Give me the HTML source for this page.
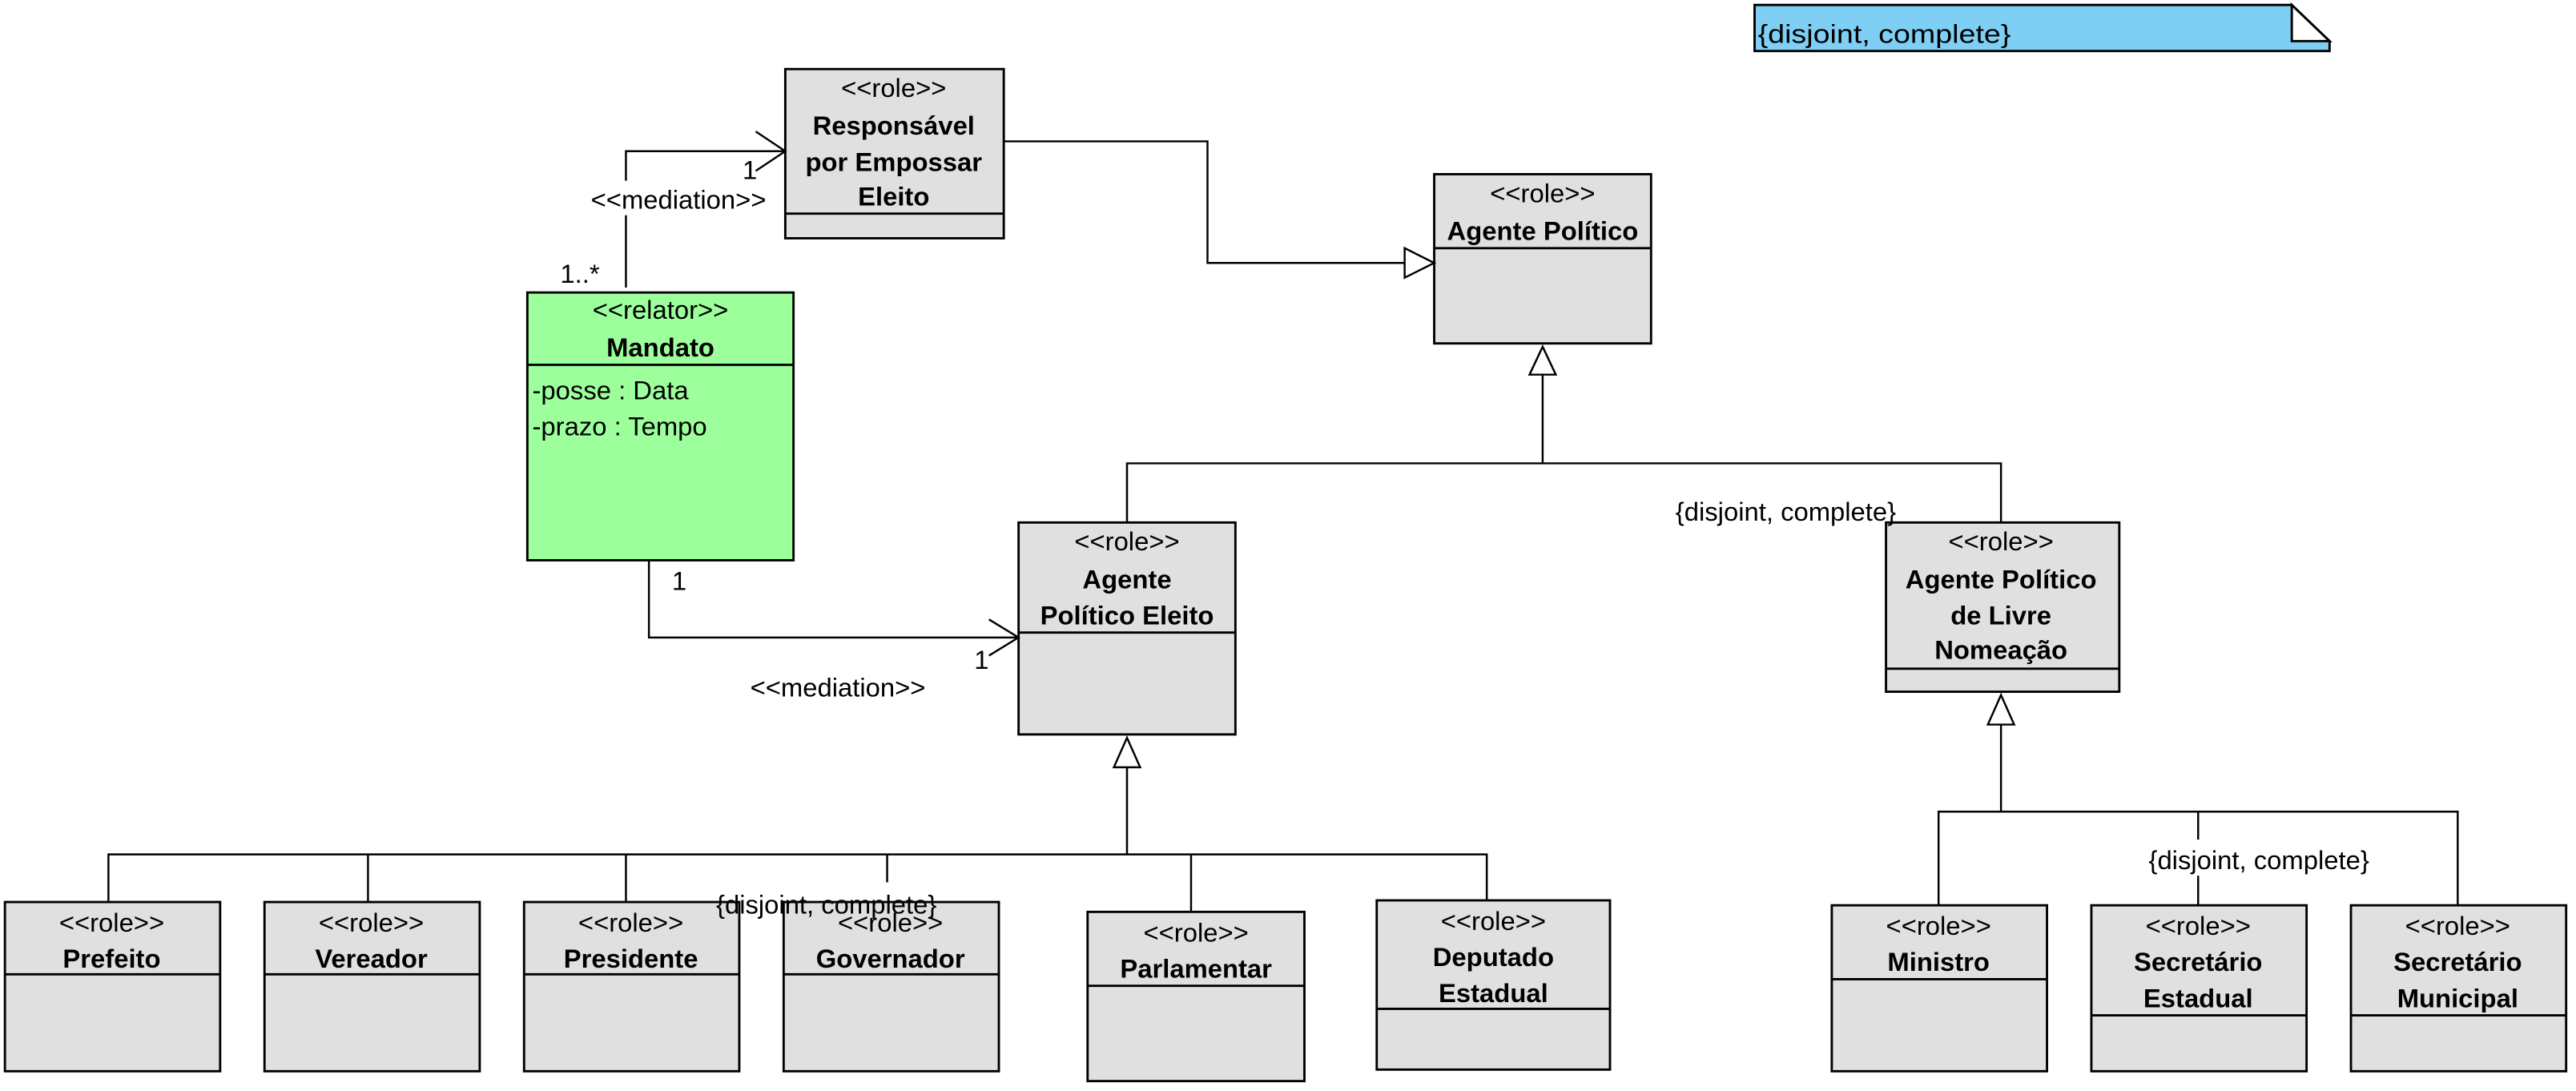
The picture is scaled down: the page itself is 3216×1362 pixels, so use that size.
<!DOCTYPE html>
<html><head><meta charset="utf-8"><style>
html,body{margin:0;padding:0;background:#fff;}
svg{display:block;}
text{font-family:"Liberation Sans",Arial,sans-serif;font-size:16px;fill:#000;}
.b{font-weight:bold;}
</style></head><body>
<svg width="3216" height="1362" viewBox="0 0 1568 664" xmlns="http://www.w3.org/2000/svg">
<g stroke="#000" stroke-width="1.4" fill="#e0e0e0">
<path d="M1068,3 H1395 L1418,25 V31 H1068 Z" fill="#7fcff5"/>
<path d="M1395,3 L1418,25 H1395 Z" fill="#fff"/>
<rect x="478" y="42" width="133" height="103"/><line x1="478" y1="130" x2="611" y2="130"/>
<rect x="873" y="106" width="132" height="103"/><line x1="873" y1="151" x2="1005" y2="151"/>
<rect x="321" y="178" width="162" height="163" fill="#9cff9c"/><line x1="321" y1="222" x2="483" y2="222"/>
<rect x="620" y="318" width="132" height="129"/><line x1="620" y1="385" x2="752" y2="385"/>
<rect x="1148" y="318" width="142" height="103"/><line x1="1148" y1="407" x2="1290" y2="407"/>
<rect x="3" y="549" width="131" height="103"/><line x1="3" y1="593" x2="134" y2="593"/>
<rect x="161" y="549" width="131" height="103"/><line x1="161" y1="593" x2="292" y2="593"/>
<rect x="319" y="549" width="131" height="103"/><line x1="319" y1="593" x2="450" y2="593"/>
<rect x="477" y="549" width="131" height="103"/><line x1="477" y1="593" x2="608" y2="593"/>
<rect x="662" y="555" width="132" height="103"/><line x1="662" y1="600" x2="794" y2="600"/>
<rect x="838" y="548" width="142" height="103"/><line x1="838" y1="614" x2="980" y2="614"/>
<rect x="1115" y="551" width="131" height="101"/><line x1="1115" y1="596" x2="1246" y2="596"/>
<rect x="1273" y="551" width="131" height="101"/><line x1="1273" y1="618" x2="1404" y2="618"/>
<rect x="1431" y="551" width="131" height="101"/><line x1="1431" y1="618" x2="1562" y2="618"/>
</g>
<g stroke="#000" stroke-width="1.2" fill="none">
<polyline points="381,175 381,131"/><polyline points="381,110 381,92 478,92"/>
<polyline points="460,80 478,92 460,104"/>
<polyline points="611,86 735,86 735,160 855,160"/>
<path d="M855,151 L873,160 L855,169 Z" fill="#fff"/>
<path d="M939,211 L931,228 L947,228 Z" fill="#fff"/>
<polyline points="939,228 939,282"/>
<polyline points="686,318 686,282 1218,282 1218,318"/>
<polyline points="395,341 395,388 620,388"/>
<polyline points="602,377 620,388 602,399"/>
<path d="M686,449 L678,467 L694,467 Z" fill="#fff"/>
<polyline points="686,467 686,520"/>
<polyline points="66,549 66,520 905,520 905,548"/>
<line x1="224" y1="520" x2="224" y2="549"/><line x1="381" y1="520" x2="381" y2="549"/>
<line x1="540" y1="520" x2="540" y2="537"/><line x1="725" y1="520" x2="725" y2="555"/>
<path d="M1218,423 L1210,441 L1226,441 Z" fill="#fff"/>
<polyline points="1218,441 1218,494"/>
<polyline points="1180,551 1180,494 1496,494 1496,551"/>
<line x1="1338" y1="494" x2="1338" y2="511"/><line x1="1338" y1="533" x2="1338" y2="551"/>
</g>
<g>
<text x="1070" y="26" font-size="20" textLength="154" lengthAdjust="spacingAndGlyphs">{disjoint, complete}</text>
<g text-anchor="middle">
<text x="544" y="59">&lt;&lt;role&gt;&gt;</text>
<text x="544" y="82" class="b">Responsável</text>
<text x="544" y="104" class="b">por Empossar</text>
<text x="544" y="125" class="b">Eleito</text>
<text x="939" y="123">&lt;&lt;role&gt;&gt;</text>
<text x="939" y="146" class="b">Agente Político</text>
<text x="402" y="194">&lt;&lt;relator&gt;&gt;</text>
<text x="402" y="217" class="b">Mandato</text>
<text x="686" y="335">&lt;&lt;role&gt;&gt;</text>
<text x="686" y="358" class="b">Agente</text>
<text x="686" y="380" class="b">Político Eleito</text>
<text x="1218" y="335">&lt;&lt;role&gt;&gt;</text>
<text x="1218" y="358" class="b">Agente Político</text>
<text x="1218" y="380" class="b">de Livre</text>
<text x="1218" y="401" class="b">Nomeação</text>
<text x="68" y="567">&lt;&lt;role&gt;&gt;</text><text x="68" y="589" class="b">Prefeito</text>
<text x="226" y="567">&lt;&lt;role&gt;&gt;</text><text x="226" y="589" class="b">Vereador</text>
<text x="384" y="567">&lt;&lt;role&gt;&gt;</text><text x="384" y="589" class="b">Presidente</text>
<text x="542" y="567">&lt;&lt;role&gt;&gt;</text><text x="542" y="589" class="b">Governador</text>
<text x="728" y="573">&lt;&lt;role&gt;&gt;</text><text x="728" y="595" class="b">Parlamentar</text>
<text x="909" y="566">&lt;&lt;role&gt;&gt;</text><text x="909" y="588" class="b">Deputado</text><text x="909" y="610" class="b">Estadual</text>
<text x="1180" y="569">&lt;&lt;role&gt;&gt;</text><text x="1180" y="591" class="b">Ministro</text>
<text x="1338" y="569">&lt;&lt;role&gt;&gt;</text><text x="1338" y="591" class="b">Secretário</text><text x="1338" y="613" class="b">Estadual</text>
<text x="1496" y="569">&lt;&lt;role&gt;&gt;</text><text x="1496" y="591" class="b">Secretário</text><text x="1496" y="613" class="b">Municipal</text>
<text x="413" y="127">&lt;&lt;mediation&gt;&gt;</text>
<text x="510" y="424">&lt;&lt;mediation&gt;&gt;</text>
<text x="1087" y="317">{disjoint, complete}</text>
<text x="503" y="556">{disjoint, complete}</text>
<text x="1375" y="529">{disjoint, complete}</text>
</g>
<text x="324" y="243">-posse : Data</text>
<text x="324" y="265">-prazo : Tempo</text>
<text x="452" y="109">1</text>
<text x="341" y="172">1..*</text>
<text x="409" y="359">1</text>
<text x="593" y="407">1</text>
</g>
</svg>
</body></html>
